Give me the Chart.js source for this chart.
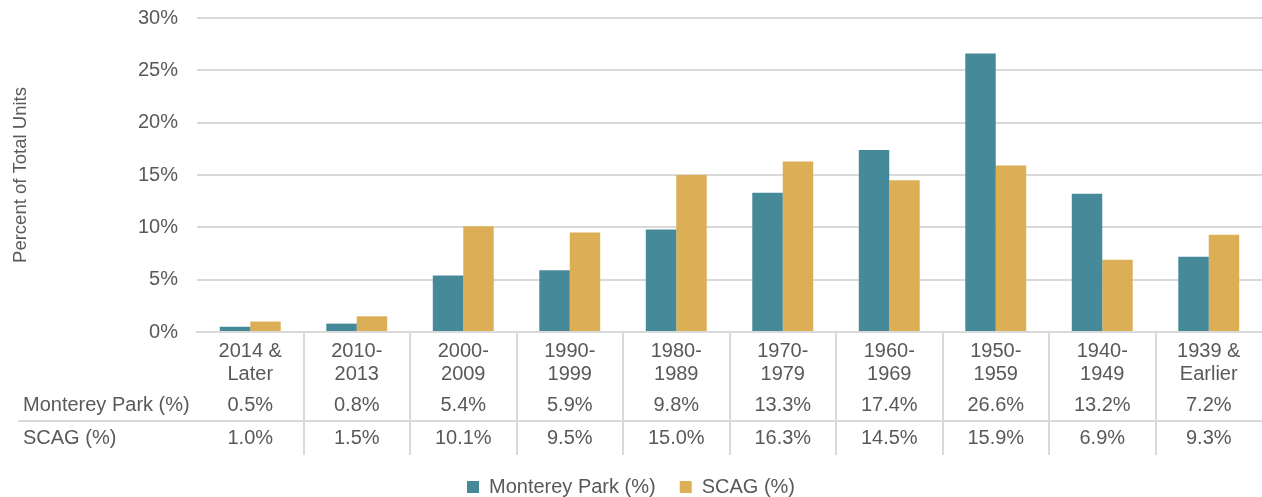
<!DOCTYPE html>
<html>
<head>
<meta charset="utf-8">
<script src="https://cdn.jsdelivr.net/npm/chart.js@4.4.1/dist/chart.umd.min.js"></script>
<style>
  html, body { margin: 0; padding: 0; background: #fff; }
  #wrap { width: 1262px; height: 497px; position: relative; }
</style>
</head>
<body>
<div id="wrap"><canvas id="chart"></canvas></div>
<script>
// Datos del gráfico
const categories = [
    ['2014 &', 'Later'], ['2010-', '2013'], ['2000-', '2009'], ['1990-', '1999'], ['1980-', '1989'],
    ['1970-', '1979'], ['1960-', '1969'], ['1950-', '1959'], ['1940-', '1949'], ['1939 &', 'Earlier']
];
const montereyPark = [0.5, 0.8, 5.4, 5.9, 9.8, 13.3, 17.4, 26.6, 13.2, 7.2];
const scag = [1.0, 1.5, 10.1, 9.5, 15.0, 16.3, 14.5, 15.9, 6.9, 9.3];
const seriesNames = ['Monterey Park (%)', 'SCAG (%)'];
const yTicks = [0, 5, 10, 15, 20, 25, 30];

const FONT = "'Liberation Sans', Arial, sans-serif";
const TEXT = '#595959';
const GRID = '#d9d9d9';

// Tabla de datos bajo el eje X
const dataTable = {
    id: 'dataTable',
    afterDraw(chart) {
        const ctx = chart.ctx;
        const x = chart.scales.x;
        const bottom = chart.chartArea.bottom;
        const n = categories.length;
        const step = (chart.chartArea.right - chart.chartArea.left) / n;

        ctx.save();
        ctx.strokeStyle = GRID;
        ctx.lineWidth = 2;
        // divisores verticales
        for (let i = 1; i < n; i++) {
            const px = Math.round(chart.chartArea.left + step * i);
            ctx.beginPath();
            ctx.moveTo(px, bottom + 1);
            ctx.lineTo(px, bottom + 123);
            ctx.stroke();
        }
        // linea entre filas
        ctx.beginPath();
        ctx.moveTo(18, bottom + 89);
        ctx.lineTo(chart.chartArea.right, bottom + 89);
        ctx.stroke();

        ctx.fillStyle = TEXT;
        ctx.font = '20px ' + FONT;
        ctx.textBaseline = 'middle';
        const rows = [montereyPark, scag];
        const rowY = [bottom + 73, bottom + 106];
        rows.forEach((vals, r) => {
            ctx.textAlign = 'left';
            ctx.fillText(seriesNames[r], 23, rowY[r]);
            ctx.textAlign = 'center';
            vals.forEach((v, i) => {
                ctx.fillText(v.toFixed(1) + '%', x.getPixelForValue(i), rowY[r]);
            });
        });
        ctx.restore();
    }
};

new Chart(document.getElementById('chart'), {
    type: 'bar',
    data: {
        labels: categories,
        datasets: [{
            label: seriesNames[0],
            data: montereyPark,
            backgroundColor: '#468a99',
            categoryPercentage: 0.572,
            barPercentage: 1
        }, {
            label: seriesNames[1],
            data: scag,
            backgroundColor: '#dcaf56',
            categoryPercentage: 0.572,
            barPercentage: 1
        }]
    },
    options: {
        responsive: true,
        maintainAspectRatio: false,
        animation: false,
        layout: { padding: { top: 18, right: 0, left: 0, bottom: -10 } },
        plugins: {
            legend: {
                position: 'bottom',
                labels: {
                    boxWidth: 12,
                    boxHeight: 12,
                    padding: 24,
                    color: TEXT,
                    font: { family: FONT, size: 20 }
                }
            },
            tooltip: { enabled: false }
        },
        scales: {
            x: {
                grid: { display: false },
                border: { display: true, color: GRID, width: 2 },
                ticks: {
                    color: TEXT,
                    font: { family: FONT, size: 20, lineHeight: 1.15 },
                    padding: 0,
                    maxRotation: 0,
                    autoSkip: false
                },
                afterFit(scale) { scale.height += 67; }
            },
            y: {
                min: 0,
                max: 30,
                afterBuildTicks(scale) { scale.ticks = yTicks.map(v => ({ value: v })); },
                grid: { color: GRID, lineWidth: 2, drawTicks: false },
                border: { display: false },
                ticks: {
                    color: TEXT,
                    font: { family: FONT, size: 20 },
                    padding: 19,
                    callback: v => v + '%'
                },
                title: {
                    display: true,
                    text: 'Percent of Total Units',
                    color: TEXT,
                    font: { family: FONT, size: 18.5 },
                    padding: { top: 10, bottom: 0 }
                },
                afterFit(scale) {
                    scale.width = 197;
                    scale.paddingTop = 0;
                    scale.paddingBottom = 0;
                }
            }
        }
    },
    plugins: [dataTable]
});
</script>
</body>
</html>
